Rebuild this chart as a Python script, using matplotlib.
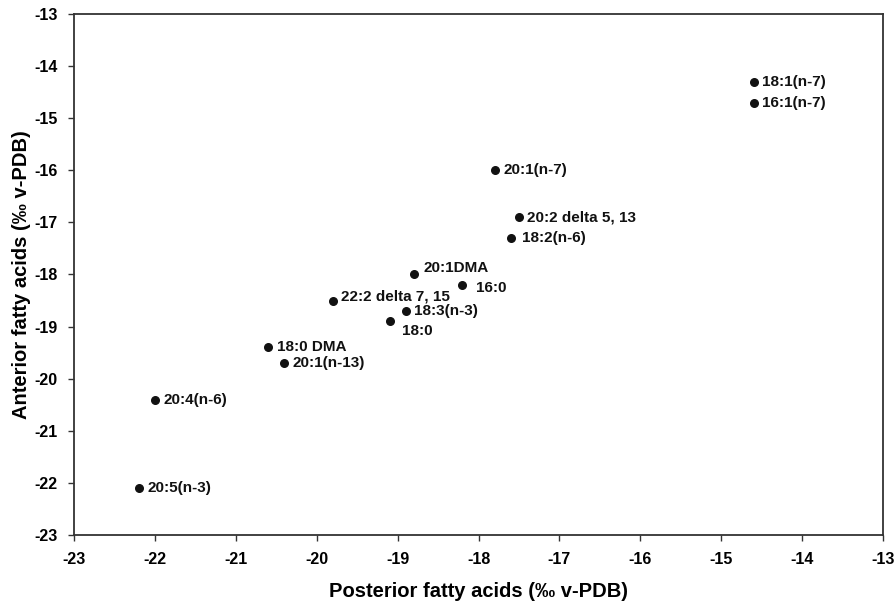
import matplotlib
matplotlib.use("Agg")
import matplotlib.pyplot as plt

# Values (per mil, v-PDB)
labels = ["18:1(n-7)", "16:1(n-7)", "20:1(n-7)", "20:2 delta 5, 13", "18:2(n-6)",
          "20:1DMA", "16:0", "22:2 delta 7, 15", "18:3(n-3)", "18:0",
          "18:0 DMA", "20:1(n-13)", "20:4(n-6)", "20:5(n-3)"]
posterior = [-14.6, -14.6, -17.8, -17.5, -17.6,
             -18.8, -18.2, -19.8, -18.9, -19.1,
             -20.6, -20.4, -22.0, -22.2]
anterior = [-14.3, -14.7, -16.0, -16.9, -17.3,
            -18.0, -18.2, -18.5, -18.7, -18.9,
            -19.4, -19.7, -20.4, -22.1]

# label offsets in points (most sit just right of the dot)
offsets = {"20:1DMA": (7, 5), "16:0": (10, -2), "18:0": (9, -7), "22:2 delta 7, 15": (6, 3),
           "18:2(n-6)": (8, 0)}

plt.rcParams["font.family"] = ["Liberation Sans", "DejaVu Sans"]
plt.rcParams["font.weight"] = "bold"

fig = plt.figure(figsize=(8.94, 6.03), dpi=100)
ax = fig.add_axes([0.0828, 0.1128, 0.9049, 0.864])

ax.scatter(posterior, anterior, s=30, color="#111111", zorder=3)
for name, x, y in zip(labels, posterior, anterior):
    dx, dy = offsets.get(name, (6, 0))
    ax.annotate(name, (x, y), xytext=(dx, dy), textcoords="offset points",
                ha="left", va="center", fontsize=11, fontweight="bold", color="#111111")

ax.set_xlim(-23, -13)
ax.set_ylim(-23, -13)
ax.set_xticks(range(-23, -12))
ax.set_yticks(range(-23, -12))
ax.set_xticklabels([str(v) for v in range(-23, -12)])
ax.set_yticklabels([str(v) for v in range(-23, -12)])
ax.tick_params(direction="out", length=4, width=1, labelsize=11.5, pad=8, color="#333333")

for sp in ax.spines.values():
    sp.set_linewidth(1.3)
    sp.set_color("#333333")

ax.set_xlabel("Posterior fatty acids (‰ v-PDB)", fontsize=14.5, fontweight="bold", labelpad=11)
ax.set_ylabel("Anterior fatty acids (‰ v-PDB)", fontsize=14.5, fontweight="bold", labelpad=2)

fig.savefig("out.png", dpi=100)
